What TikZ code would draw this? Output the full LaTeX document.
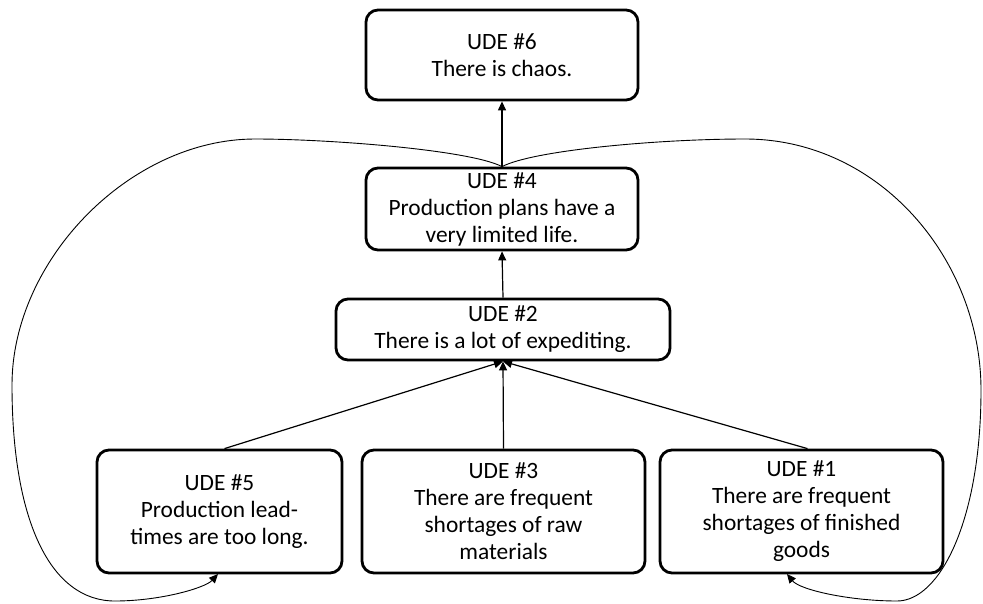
\documentclass[tikz,border=0pt]{standalone}
\usepackage{fontspec}
\setmainfont{Carlito}
\usetikzlibrary{arrows.meta}
\begin{document}
\begin{tikzpicture}[x=1pt,y=-1pt,
  udebox/.style={draw, line width=2.8pt, rounded corners=12pt, align=center,
    inner sep=0pt, font=\fontsize{23.4}{27}\selectfont},
  link/.style={-{Triangle[length=9pt,width=8pt]}, line width=1.2pt},
  loopline/.style={-{Triangle[length=9pt,width=8pt]}, line width=0.9pt}]
\useasboundingbox (0,0) rectangle (983,603);

\node[udebox, minimum width=272pt, minimum height=90pt] (u6) at (502,55)
  {UDE \#6\\There is chaos.};
\node[udebox, minimum width=272pt, minimum height=82pt] (u4) at (502,209)
  {UDE \#4\\Production plans have a\\very limited life.};
\node[udebox, minimum width=334pt, minimum height=61pt] (u2) at (503,329.5)
  {UDE \#2\\There is a lot of expediting.};
\node[udebox, minimum width=245pt, minimum height=123pt] (u5) at (219.5,511.5)
  {UDE \#5\\Production lead-\\times are too long.};
\node[udebox, minimum width=283pt, minimum height=123pt] (u3) at (503.5,511.5)
  {UDE \#3\\There are frequent\\shortages of raw\\materials};
\node[udebox, minimum width=283pt, minimum height=123pt] (u1) at (801.5,511.5)
  {UDE \#1\\There are frequent\\shortages of finished\\goods};

\coordinate (hub) at (u2.south);
\draw[link] (u4.north) -- (u6.south);
\draw[link] (u2.north) -- (u4.south);
\draw[link] ([xshift=5pt]u5.north) -- (hub);
\draw[link] (u3.north) -- (hub);
\draw[link] ([xshift=6pt]u1.north) -- (hub);

\coordinate (lt) at (255,139);
\coordinate (ll) at (12,385);
\coordinate (lb) at (115,601);
\coordinate (lend) at (218,574);
\draw[loopline] (u4.north) .. controls (470,150) and (330,139) .. (lt)
  .. controls (130,139) and (12,260) .. (ll)
  .. controls (12,520) and (50,601) .. (lb)
  .. controls (160,601) and (205,588) .. (lend);

\coordinate (rt) at (745,139);
\coordinate (rr) at (981,390);
\coordinate (rb) at (897,601);
\coordinate (rend) at (787,574);
\draw[loopline] (u4.north) .. controls (534,150) and (660,139) .. (rt)
  .. controls (880,139) and (981,260) .. (rr)
  .. controls (981,520) and (940,601) .. (rb)
  .. controls (850,601) and (800,590) .. (rend);
\end{tikzpicture}
\end{document}
